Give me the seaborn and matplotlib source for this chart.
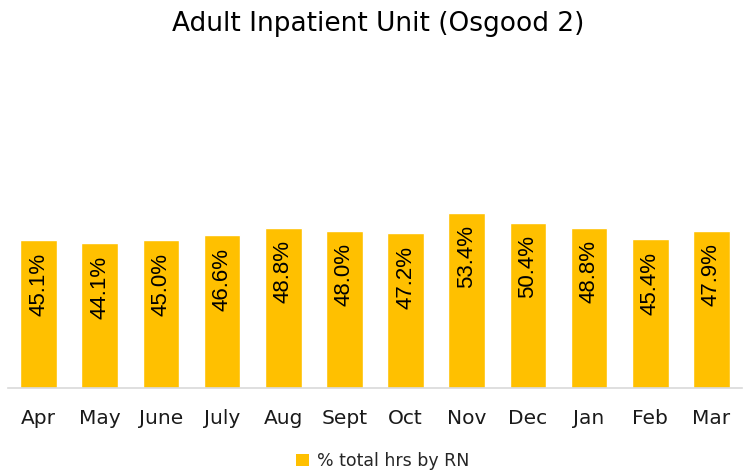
import numpy as np
import pandas as pd
import seaborn as sns
import matplotlib.pyplot as plt
from matplotlib.patches import Patch

# === data ===
months = ["Apr", "May", "June", "July", "Aug", "Sept", "Oct", "Nov", "Dec", "Jan", "Feb", "Mar"]
pct_rn = [45.1, 44.1, 45.0, 46.6, 48.8, 48.0, 47.2, 53.4, 50.4, 48.8, 45.4, 47.9]
series_name = "% total hrs by RN"
title = "Adult Inpatient Unit (Osgood 2)"

df = pd.DataFrame({"Month": months, "Pct": pct_rn})
gold = "#FFC000"

sns.set_theme(style="white")
plt.rcParams["font.family"] = ["DejaVu Sans"]

fig = plt.figure(figsize=(7.51, 4.72), dpi=100)
ax = fig.add_axes([8 / 751, 1 - 388 / 472, 734 / 751, 328 / 472])

sns.barplot(data=df, x="Month", y="Pct", color=gold, width=0.6,
            saturation=1, ax=ax)

# value labels inside the top of each bar, rotated
for i, v in enumerate(pct_rn):
    ax.annotate(f"{v:.1f}%", xy=(i, v), xytext=(0, -9), textcoords="offset points",
                rotation=90, ha="center", va="top", fontsize=16,
                family="Liberation Sans", color="black")

ax.set_ylim(0, 100)
ax.set_yticks([])
ax.set_xlabel("")
ax.set_ylabel("")
for s in ["top", "right", "left"]:
    ax.spines[s].set_visible(False)
ax.spines["bottom"].set_color("#d9d9d9")
ax.spines["bottom"].set_linewidth(1.2)
ax.tick_params(axis="x", length=0, pad=15, labelsize=14.5, labelcolor="#1a1a1a")

fig.text(0.503, 0.95, title, ha="center", va="center", fontsize=19, color="black")

handles = [Patch(facecolor=gold, edgecolor="none", label=series_name)]
fig.legend(handles=handles, loc="center", bbox_to_anchor=(0.51, 0.023),
           frameon=False, fontsize=12.5, handlelength=0.7, handleheight=0.7,
           handletextpad=0.5)

fig.savefig("out.png", dpi=100)
